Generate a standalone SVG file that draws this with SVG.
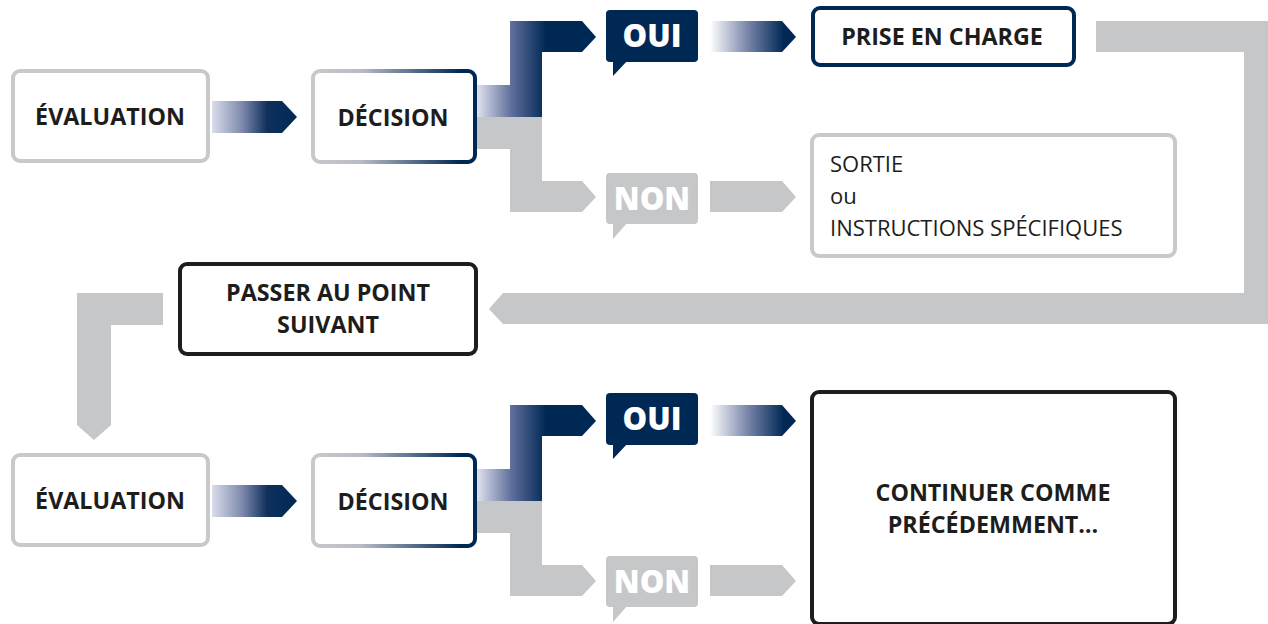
<svg xmlns="http://www.w3.org/2000/svg" width="1268" height="624" viewBox="0 0 1268 624">
<defs>
<linearGradient id="gArrow" gradientUnits="userSpaceOnUse" x1="212" y1="0" x2="297" y2="0">
<stop offset="0" stop-color="#d9dcea"/><stop offset="0.35" stop-color="#7f8aae"/><stop offset="0.65" stop-color="#0f305d"/><stop offset="1" stop-color="#002855"/>
</linearGradient>
<linearGradient id="gBracket" gradientUnits="userSpaceOnUse" x1="477" y1="0" x2="546" y2="0">
<stop offset="0" stop-color="#dfe2ef"/><stop offset="0.5" stop-color="#5f6e9a"/><stop offset="1" stop-color="#002855"/>
</linearGradient>
<linearGradient id="gOui" gradientUnits="userSpaceOnUse" x1="710" y1="0" x2="784" y2="0">
<stop offset="0" stop-color="#ffffff"/><stop offset="0.5" stop-color="#7b87ab"/><stop offset="1" stop-color="#002855"/>
</linearGradient>
<linearGradient id="gBorder" gradientUnits="userSpaceOnUse" x1="311" y1="0" x2="477" y2="0">
<stop offset="0" stop-color="#c8c9cb"/><stop offset="0.3" stop-color="#b9bcc6"/><stop offset="0.9" stop-color="#002855"/><stop offset="1" stop-color="#002855"/>
</linearGradient>
</defs>
<style>
.box{fill:#ffffff;stroke-width:4}
.grey{stroke:#c8c9cb}
.navy{stroke:#002855}
.black{stroke:#1d1d1b}
.grad{stroke:url(#gBorder)}
.t{font-family:"Open Sans","Noto Sans","Liberation Sans",sans-serif;fill:#1d1d1b}
.b{font-weight:700;font-size:23.3px;text-anchor:middle}
.r{font-weight:400;font-size:22px}
.bub{font-family:"Open Sans","Noto Sans","Liberation Sans",sans-serif;font-weight:800;font-size:31px;fill:#ffffff;text-anchor:middle}
.gfill{fill:#c6c7c9}
.nfill{fill:#002855}
</style>
<rect width="1268" height="624" fill="#ffffff"/>

<g id="connectors">
  <!-- top row -->
  <path d="M212,101 H282 L297,117 L282,133 H212 Z" fill="url(#gArrow)"/>
  <path d="M477,85 H510 V21 H582 L596,37 L582,52 H542 V117 H477 Z" fill="url(#gBracket)"/>
  <path class="gfill" d="M477,117 H542 V181 H582 L596,197 L582,212 H510 V149 H477 Z"/>
  <path d="M710,21 H782 L796,37 L782,52 H710 Z" fill="url(#gOui)"/>
  <path class="gfill" d="M710,181 H782 L796,197 L782,212 H710 Z"/>
  <!-- loop back -->
  <path class="gfill" d="M1096,21 H1268 V324 H503 L489,309 L503,293 H1244 V52 H1096 Z"/>
  <path class="gfill" d="M163,293 V325 H111 V425 L94,440 L77,425 V293 Z"/>
  <!-- bottom row -->
  <g transform="translate(0,384)">
    <path d="M212,101 H282 L297,117 L282,133 H212 Z" fill="url(#gArrow)"/>
    <path d="M477,85 H510 V21 H582 L596,37 L582,52 H542 V117 H477 Z" fill="url(#gBracket)"/>
    <path class="gfill" d="M477,117 H542 V181 H582 L596,197 L582,212 H510 V149 H477 Z"/>
    <path d="M710,21 H782 L796,37 L782,52 H710 Z" fill="url(#gOui)"/>
    <path class="gfill" d="M710,181 H782 L796,197 L782,212 H710 Z"/>
  </g>
</g>

<g id="evaluation1">
  <rect class="box grey" x="13" y="71" width="195" height="90" rx="7"/>
  <text class="t b" x="110" y="125">ÉVALUATION</text>
</g>
<g id="decision1">
  <rect class="box grad" x="313" y="71" width="162" height="91" rx="7"/>
  <text class="t b" x="393" y="126">DÉCISION</text>
</g>
<g id="oui1">
  <rect class="nfill" x="606" y="10" width="92" height="52" rx="4"/>
  <path class="nfill" d="M613,60 V76 L628,60 Z"/>
  <text class="bub" x="652" y="47">OUI</text>
</g>
<g id="non1">
  <rect class="gfill" x="606" y="173" width="92" height="51" rx="4"/>
  <path class="gfill" d="M613,222 V239 L628,222 Z"/>
  <text class="bub" x="652" y="210">NON</text>
</g>
<g id="prise">
  <rect class="box navy" x="813" y="8" width="261" height="57" rx="7"/>
  <text class="t b" x="942" y="45">PRISE EN CHARGE</text>
</g>
<g id="sortie">
  <rect class="box grey" x="812" y="135" width="363" height="121" rx="7"/>
  <text class="t r" x="830" y="172">SORTIE</text>
  <text class="t r" x="830" y="204">ou</text>
  <text class="t r" x="830" y="236">INSTRUCTIONS SPÉCIFIQUES</text>
</g>
<g id="passer">
  <rect class="box black" x="180" y="264" width="296" height="90" rx="7"/>
  <text class="t b" x="328" y="301">PASSER AU POINT</text>
  <text class="t b" x="328" y="333">SUIVANT</text>
</g>
<g id="evaluation2">
  <rect class="box grey" x="13" y="455" width="195" height="90" rx="7"/>
  <text class="t b" x="110" y="509">ÉVALUATION</text>
</g>
<g id="decision2" transform="translate(0,384)">
  <rect class="box grad" x="313" y="71" width="162" height="91" rx="7"/>
  <text class="t b" x="393" y="126">DÉCISION</text>
</g>
<g id="oui2" transform="translate(0,383)">
  <rect class="nfill" x="606" y="10" width="92" height="52" rx="4"/>
  <path class="nfill" d="M613,60 V76 L628,60 Z"/>
  <text class="bub" x="652" y="47">OUI</text>
</g>
<g id="non2" transform="translate(0,383)">
  <rect class="gfill" x="606" y="173" width="92" height="51" rx="4"/>
  <path class="gfill" d="M613,222 V239 L628,222 Z"/>
  <text class="bub" x="652" y="210">NON</text>
</g>
<g id="continuer">
  <rect class="box black" x="812" y="392" width="363" height="232" rx="7"/>
  <text class="t b" x="993" y="501">CONTINUER COMME</text>
  <text class="t b" x="993" y="533">PRÉCÉDEMMENT…</text>
</g>
</svg>
